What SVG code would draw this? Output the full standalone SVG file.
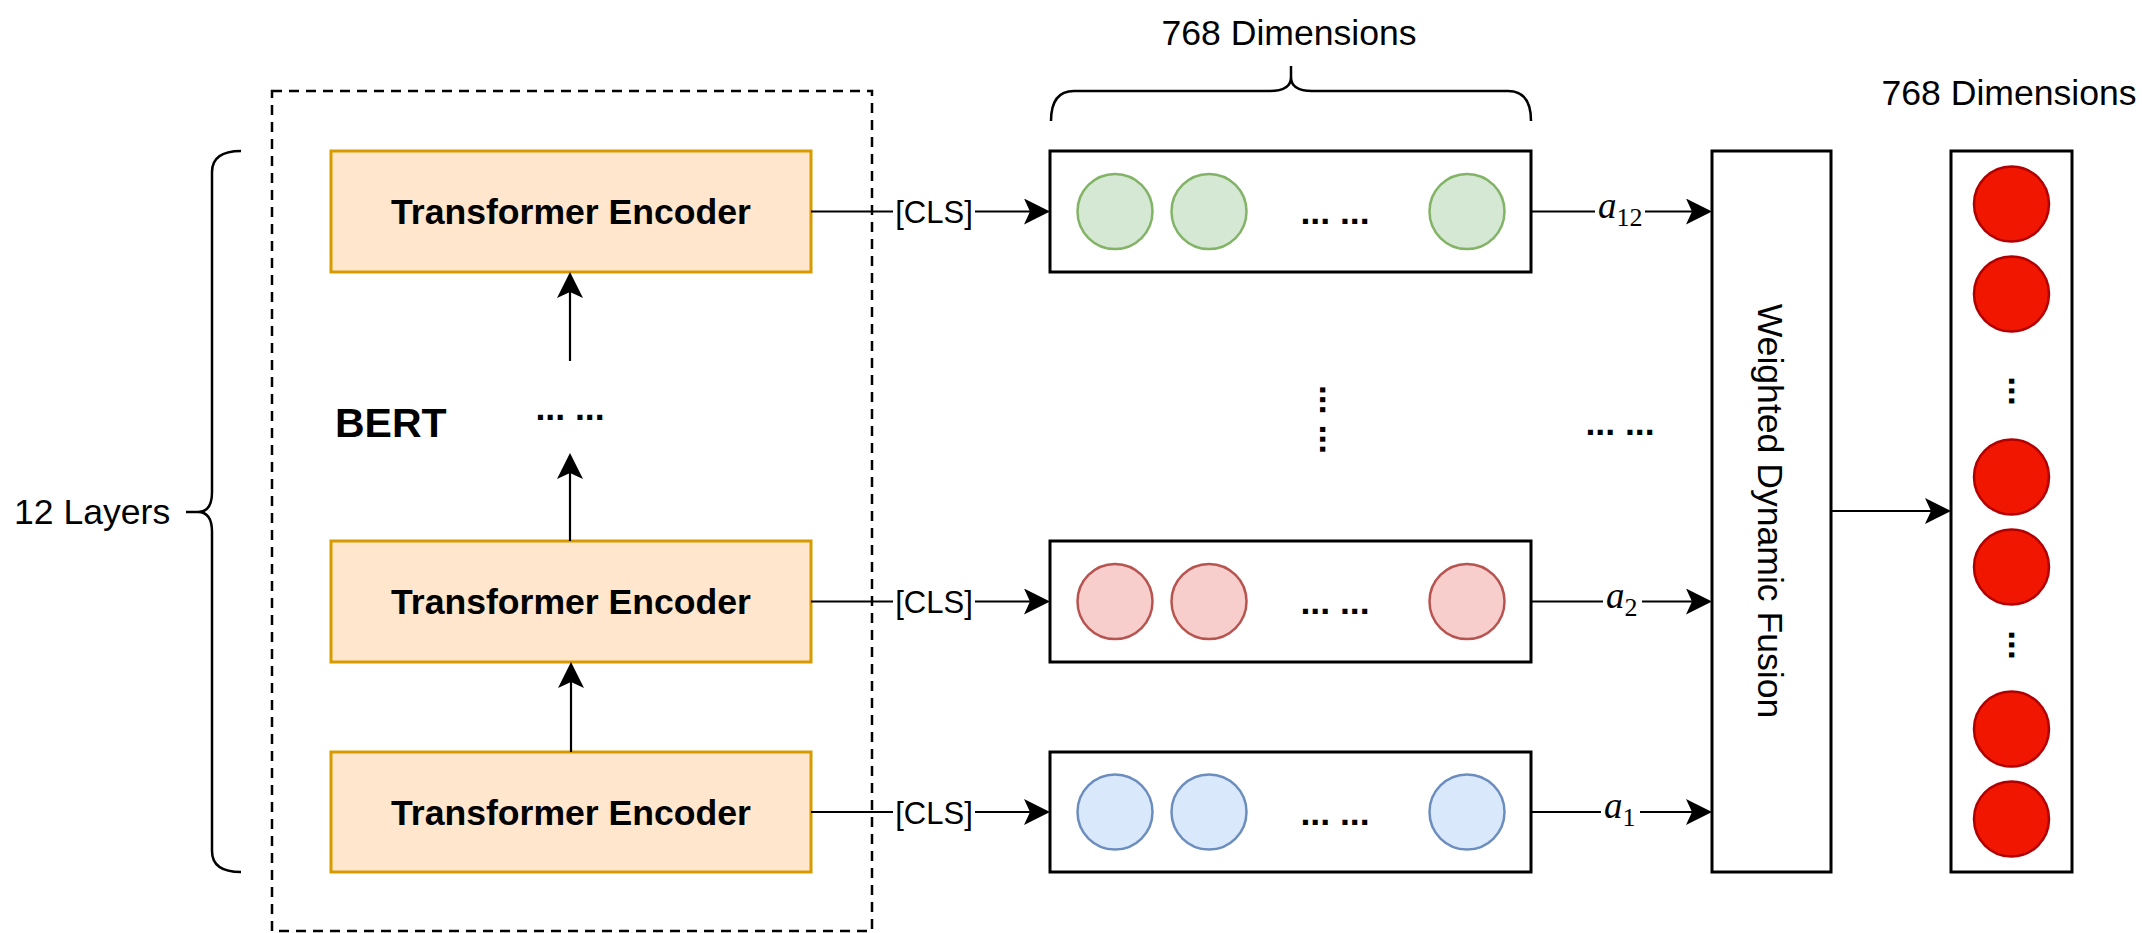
<svg xmlns="http://www.w3.org/2000/svg" width="2142" height="933" viewBox="0 0 2142 933">
<style>
  .t { font-family: "Liberation Sans", Arial, Helvetica, sans-serif; font-size: 35.6px; fill: #000; }
  .b { font-weight: bold; }
  .enc { fill: #ffe6cc; stroke: #d79b00; stroke-width: 3; }
  .vec { fill: #ffffff; stroke: #000; stroke-width: 3; }
  .g { fill: #d5e8d4; stroke: #82b366; stroke-width: 2.5; }
  .r { fill: #f8cecc; stroke: #b85450; stroke-width: 2.5; }
  .bl { fill: #dae8fc; stroke: #6c8ebf; stroke-width: 2.5; }
  .o { fill: #f01600; stroke: #b20000; stroke-width: 2.5; }
  .ln { fill: none; stroke: #000; stroke-width: 2.2; marker-end: url(#arr); }
  .br { fill: none; stroke: #000; stroke-width: 2.5; }
  .lbg { fill: #ffffff; }
  .m { font-family: "Liberation Serif", "Times New Roman", serif; fill: #000; }
</style>
<defs>
  <marker id="arr" viewBox="-26 -13 29 26" refX="-3" refY="0" markerWidth="29" markerHeight="26" markerUnits="userSpaceOnUse" orient="auto">
    <path d="M0,0 L-26,-13 L-20,0 L-26,13 Z" fill="#000"/>
  </marker>
</defs>
<rect width="2142" height="933" fill="#ffffff"/>

<!-- BERT container -->
<g id="bert">
  <rect x="272" y="91" width="600" height="840" fill="none" stroke="#000" stroke-width="2.5" stroke-dasharray="10 7"/>
  <text class="t b" x="335" y="437" style="font-size:41px">BERT</text>
  <text class="t b" x="570" y="420" text-anchor="middle">... ...</text>
</g>

<!-- layer brace -->
<g id="layers-brace">
  <path class="br" d="M241,151 Q212,151 212,172 L212,492 Q212,512 198,512 L186,512 M198,512 Q212,512 212,532 L212,851 Q212,872 241,872"/>
  <text class="t" x="14" y="524">12 Layers</text>
</g>

<!-- dims brace -->
<g id="dims-brace">
  <path class="br" d="M1051,121 Q1051,91 1074,91 L1270,91 Q1291,91 1291,77 L1291,66 M1291,77 Q1291,91 1312,91 L1508,91 Q1531,91 1531,121"/>
  <text class="t" x="1289" y="45" text-anchor="middle">768 Dimensions</text>
</g>

<g id="enc1">
  <rect class="enc" x="331" y="151" width="480" height="121"/>
  <text class="t b" x="571" y="224" text-anchor="middle">Transformer Encoder</text>
</g>
<g id="enc2">
  <rect class="enc" x="331" y="541" width="480" height="121"/>
  <text class="t b" x="571" y="614" text-anchor="middle">Transformer Encoder</text>
</g>
<g id="enc3">
  <rect class="enc" x="331" y="752" width="480" height="120"/>
  <text class="t b" x="571" y="824.5" text-anchor="middle">Transformer Encoder</text>
</g>

<g id="vec12">
  <rect class="vec" x="1050" y="151" width="481" height="121"/>
  <circle class="g" cx="1115" cy="211.5" r="37.5"/>
  <circle class="g" cx="1209" cy="211.5" r="37.5"/>
  <circle class="g" cx="1467" cy="211.5" r="37.5"/>
  <text class="t b" x="1335" y="224" text-anchor="middle">... ...</text>
</g>
<g id="vec2">
  <rect class="vec" x="1050" y="541" width="481" height="121"/>
  <circle class="r" cx="1115" cy="601.5" r="37.5"/>
  <circle class="r" cx="1209" cy="601.5" r="37.5"/>
  <circle class="r" cx="1467" cy="601.5" r="37.5"/>
  <text class="t b" x="1335" y="614" text-anchor="middle">... ...</text>
</g>
<g id="vec1">
  <rect class="vec" x="1050" y="752" width="481" height="120"/>
  <circle class="bl" cx="1115" cy="812" r="37.5"/>
  <circle class="bl" cx="1209" cy="812" r="37.5"/>
  <circle class="bl" cx="1467" cy="812" r="37.5"/>
  <text class="t b" x="1335" y="824.5" text-anchor="middle">... ...</text>
</g>

<g id="mid-dots">
  <text class="t b" x="1322" y="422" text-anchor="middle" transform="rotate(90 1322 419.5)">... ...</text>
  <text class="t b" x="1620" y="434.5" text-anchor="middle">... ...</text>
</g>

<g id="fusion">
  <rect class="vec" x="1712" y="151" width="119" height="721"/>
  <text class="t" x="1771" y="524" text-anchor="middle" transform="rotate(90 1771 511)">Weighted Dynamic Fusion</text>
</g>

<g id="output">
  <rect class="vec" x="1951" y="151" width="121" height="721"/>
  <circle class="o" cx="2011.5" cy="204" r="37.5"/>
  <circle class="o" cx="2011.5" cy="294" r="37.5"/>
  <text class="t b" x="2011.5" y="393.5" text-anchor="middle" transform="rotate(90 2011.5 391)">...</text>
  <circle class="o" cx="2011.5" cy="477" r="37.5"/>
  <circle class="o" cx="2011.5" cy="567" r="37.5"/>
  <text class="t b" x="2011.5" y="647.5" text-anchor="middle" transform="rotate(90 2011.5 645)">...</text>
  <circle class="o" cx="2011.5" cy="729" r="37.5"/>
  <circle class="o" cx="2011.5" cy="819" r="37.5"/>
  <text class="t" x="2009" y="105" text-anchor="middle">768 Dimensions</text>
</g>

<g id="connectors">
  <path class="ln" d="M571,752 V665"/>
  <path class="ln" d="M570,541 V456"/>
  <path class="ln" d="M570,361 V275"/>

  <path class="ln" d="M811,211.5 H1047"/>
  <path class="ln" d="M811,601.5 H1047"/>
  <path class="ln" d="M811,812 H1047"/>

  <path class="ln" d="M1531,211.5 H1709"/>
  <path class="ln" d="M1531,601.5 H1709"/>
  <path class="ln" d="M1531,812 H1709"/>

  <path class="ln" d="M1831,511 H1948"/>

  <rect class="lbg" x="893" y="196" width="82" height="34"/>
  <text class="t" x="934" y="223" text-anchor="middle" style="font-size:31px">[CLS]</text>
  <rect class="lbg" x="893" y="586" width="82" height="34"/>
  <text class="t" x="934" y="613" text-anchor="middle" style="font-size:31px">[CLS]</text>
  <rect class="lbg" x="893" y="796" width="82" height="34"/>
  <text class="t" x="934" y="823.5" text-anchor="middle" style="font-size:31px">[CLS]</text>

  <rect class="lbg" x="1595" y="196" width="50" height="32"/>
  <text class="m" x="1598" y="217.5" style="font-size:37px"><tspan font-style="italic">a</tspan><tspan y="225.5" style="font-size:26px">12</tspan></text>
  <rect class="lbg" x="1603" y="586" width="39" height="32"/>
  <text class="m" x="1606" y="607.5" style="font-size:37px"><tspan font-style="italic">a</tspan><tspan y="615.5" style="font-size:26px">2</tspan></text>
  <rect class="lbg" x="1601" y="796" width="39" height="32"/>
  <text class="m" x="1604" y="818" style="font-size:37px"><tspan font-style="italic">a</tspan><tspan y="826" style="font-size:26px">1</tspan></text>
</g>
</svg>
